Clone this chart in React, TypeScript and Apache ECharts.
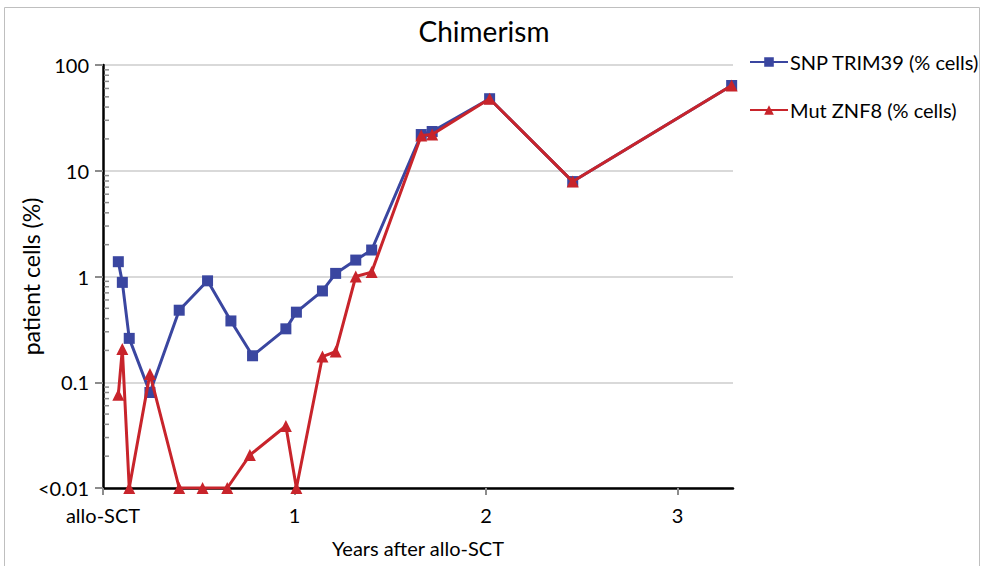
import React, { useEffect, useRef } from "react";
import * as echarts from "echarts";

// Time after transplant (years) and chimerism (% patient cells)
const snpYears = [0.08, 0.101, 0.137, 0.245, 0.398, 0.546, 0.668, 0.781, 0.955, 1.01, 1.146, 1.215, 1.32, 1.403, 1.662, 1.719, 2.019, 2.453, 3.283];
const snpValues = [1.38, 0.88, 0.26, 0.08, 0.48, 0.91, 0.38, 0.178, 0.32, 0.46, 0.73, 1.07, 1.43, 1.78, 22, 23.5, 48, 7.9, 64];

const mutYears = [0.08, 0.101, 0.137, 0.245, 0.398, 0.52, 0.649, 0.767, 0.955, 1.01, 1.146, 1.215, 1.32, 1.403, 1.662, 1.719, 2.019, 2.453, 3.283];
const mutValues = [0.076, 0.206, 0.01, 0.12, 0.01, 0.01, 0.01, 0.0205, 0.0386, 0.01, 0.175, 0.195, 1.0, 1.1, 21.5, 22, 48, 7.9, 64];

const seriesNames = ["SNP TRIM39 (% cells)", "Mut ZNF8 (% cells)"];
const xTickValues = [0, 1, 2, 3];
const xTickLabels = ["allo-SCT", "1", "2", "3"];
const yMinorValues = [
  0.02, 0.03, 0.04, 0.05, 0.06, 0.07, 0.08, 0.09,
  0.2, 0.3, 0.4, 0.5, 0.6, 0.7, 0.8, 0.9,
  2, 3, 4, 5, 6, 7, 8, 9,
  20, 30, 40, 50, 60, 70, 80, 90,
];

const FONT = "Lato";
const BLUE = "#3A46A0";
const RED = "#C8242B";

export default function App() {
  const ref = useRef<HTMLDivElement>(null);

  useEffect(() => {
    document.body.style.margin = "0";
    const chart = echarts.init(ref.current!, undefined, { renderer: "svg" });
    chart.setOption({
      animation: false,
      backgroundColor: "#ffffff",
      textStyle: { fontFamily: FONT, color: "#000" },
      title: {
        text: "Chimerism",
        left: 479,
        textAlign: "center",
        top: 12,
        textStyle: { fontFamily: FONT, fontSize: 28, fontWeight: "normal", color: "#000" },
      },
      graphic: [
        {
          type: "rect",
          shape: { x: 4.5, y: 7.5, width: 975, height: 580 },
          style: { fill: "none", stroke: "#bfbfbf", lineWidth: 1 },
          silent: true,
          z: -1,
        },
      ],
      legend: {
        orient: "vertical",
        left: 744,
        top: 47,
        itemWidth: 38,
        itemHeight: 12,
        itemGap: 28,
        data: seriesNames,
        textStyle: { fontFamily: FONT, fontSize: 20, color: "#000", padding: [0, 0, 0, -3] },
      },
      grid: { left: 103, top: 65, right: 248, bottom: 78, outerBoundsMode: "none" },
      xAxis: {
        type: "value",
        min: 0,
        max: 3.29,
        name: "Years after allo-SCT",
        nameLocation: "middle",
        nameGap: 50,
        nameMoveOverlap: false,
        nameTextStyle: { fontFamily: FONT, fontSize: 20, color: "#000" },
        splitLine: { show: false },
        axisLine: { lineStyle: { color: "#000", width: 2.5 } },
        axisTick: {
          show: true,
          length: 7,
          customValues: xTickValues,
          lineStyle: { color: "#8c8c8c", width: 2 },
        },
        axisLabel: {
          customValues: xTickValues,
          margin: 17,
          fontFamily: FONT,
          fontSize: 20,
          color: "#000",
          formatter: (v: number) => {
            const i = xTickValues.indexOf(Math.round(v));
            return i >= 0 ? xTickLabels[i] : "";
          },
        },
      },
      yAxis: {
        type: "log",
        logBase: 10,
        min: 0.01,
        max: 100,
        name: "patient cells (%)",
        nameLocation: "middle",
        nameGap: 61,
        nameMoveOverlap: false,
        nameTextStyle: { fontFamily: FONT, fontSize: 23, color: "#000" },
        axisLine: { show: true, lineStyle: { color: "#000", width: 2.5 } },
        axisTick: { show: true, length: 8, lineStyle: { color: "#8c8c8c", width: 2 } },
        splitLine: { show: true, lineStyle: { color: "#d9d9d9", width: 2 } },
        axisLabel: {
          margin: 14,
          fontFamily: FONT,
          fontSize: 20,
          color: "#000",
          formatter: (v: number) => {
            const n = Number(v.toPrecision(3));
            return n <= 0.01 ? "<0.01" : String(n);
          },
        },
      },
      series: [
        {
          // minor ticks of the log axis at 2..9 in each decade
          type: "custom",
          silent: true,
          clip: false,
          data: yMinorValues.map((v) => [0, v]),
          encode: { x: 0, y: 1 },
          renderItem: (_p: any, api: any) => {
            const pt = api.coord([api.value(0), api.value(1)]);
            return {
              type: "line",
              shape: { x1: pt[0] + 1, y1: pt[1], x2: pt[0] + 6, y2: pt[1] },
              style: { stroke: "#8c8c8c", lineWidth: 1.5 },
            };
          },
          z: 1,
        },
        {
          name: seriesNames[0],
          type: "line",
          data: snpYears.map((x, i) => [x, snpValues[i]]),
          symbol: "rect",
          symbolSize: 11,
          color: BLUE,
          lineStyle: { width: 3, color: BLUE },
          itemStyle: { color: BLUE },
          z: 3,
        },
        {
          name: seriesNames[1],
          type: "line",
          data: mutYears.map((x, i) => [x, mutValues[i]]),
          symbol: "triangle",
          symbolSize: 12,
          color: RED,
          lineStyle: { width: 3, color: RED },
          itemStyle: { color: RED },
          z: 4,
        },
      ],
    });
    return () => chart.dispose();
  }, []);

  return <div ref={ref} style={{ width: 981, height: 566 }} />;
}
